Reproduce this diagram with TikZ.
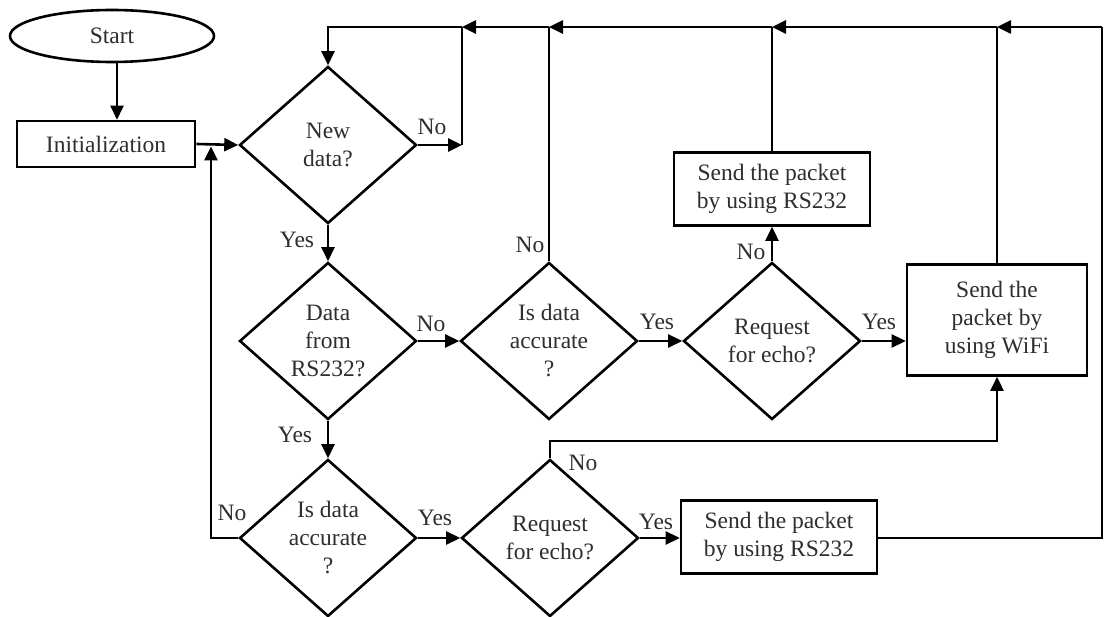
\documentclass[tikz,border=0pt]{standalone}
\usepackage{fontspec}
\setmainfont{Liberation Serif}
\usetikzlibrary{shapes.geometric,arrows.meta}
\definecolor{txt}{HTML}{2E2E2E}
\begin{document}
\begin{tikzpicture}[x=1pt,y=-1pt,
  every node/.style={font=\fontsize{23.5}{28}\selectfont, text=txt},
  line/.style={line width=2.6pt, draw=black},
  arr/.style={line, -{Triangle[length=14pt,width=13pt]}},
  dec/.style={shape=diamond, draw=black, line width=2.6pt, minimum width=177pt, minimum height=157pt, inner sep=0pt, aspect=1.13, align=center},
  proc/.style={rectangle, draw=black, line width=2.6pt, inner sep=0pt, align=center},
  lbl/.style={inner sep=0pt}
]
\useasboundingbox (0,0) rectangle (1104,617);
\fill[white] (0,0) rectangle (1104,617);

% nodes
\node[ellipse, draw=black, line width=2.6pt, minimum width=204pt, minimum height=52pt, inner sep=0pt] (start) at (112,36) {Start};
\node[proc, minimum width=178pt, minimum height=46pt] (init) at (106,144) {Initialization};
\node[dec] (d1) at (328,145) {New\\data?};
\node[dec] (d2) at (328,341) {Data\\from\\RS232?};
\node[dec] (d3) at (549,341) {Is data\\accurate\\?};
\node[dec] (d4) at (772,341) {Request\\for echo?};
\node[dec] (d5) at (328,538) {Is data\\accurate\\?};
\node[dec] (d6) at (550,538) {Request\\for echo?};
\node[proc, minimum width=196pt, minimum height=73pt] (rs1) at (772,189) {Send the packet\\by using RS232};
\node[proc, minimum width=180pt, minimum height=111pt] (wifi) at (997,320) {Send the\\packet by\\using WiFi};
\node[proc, minimum width=196pt, minimum height=73pt] (rs2) at (779,537) {Send the packet\\by using RS232};

% helper coordinates
\coordinate (sx) at (117,0);
\coordinate (jl) at (211,145);
\coordinate (jle) at (211,146.5);
\coordinate (jn) at (462,145);
\coordinate (re) at (1102,538);
\coordinate (t5) at (1102,27);
\coordinate (t4) at (997,27);
\coordinate (t3) at (772,27);
\coordinate (t2) at (549,27);
\coordinate (t1) at (462,27);
\coordinate (t0) at (328,27);
\coordinate (bl) at (997,441);

% connectors
\draw[arr] (start.south -| sx) -- (init.north -| sx);
\draw[arr] (init.east) -- (d1.west);
\draw[arr] (d5.west) -- (d5.west -| jl) -- (jle);
\draw[arr] (d1.east) -- (jn);
\draw[line] (jn) -- (t1);
\draw[arr] (d1.south) -- (d2.north);
\draw[arr] (d2.south) -- (d5.north);
\draw[arr] (d2.east) -- (d3.west);
\draw[arr] (d3.east) -- (d4.west);
\draw[arr] (d4.east) -- (d4.east -| wifi.west);
\draw[arr] (d4.north) -- (rs1.south);
\draw[arr] (d5.east) -- (d6.west);
\draw[arr] (d6.east) -- (d6.east -| rs2.west);
\draw[arr] (d6.north) -- (d6.north |- bl) -- (bl) -- (wifi.south);
\draw[line] (d3.north) -- (t2);
\draw[line] (rs1.north) -- (t3);
\draw[line] (wifi.north) -- (t4);
\draw[line] (rs2.east |- re) -- (re) -- (t5);
\draw[arr] (t5) -- (t4);
\draw[arr] (t4) -- (t3);
\draw[arr] (t3) -- (t2);
\draw[arr] (t2) -- (t1);
\draw[arr] (t1) -- (t0) -- (d1.north);

% labels
\node[lbl] (l1) at (432,127) {No};
\node[lbl] (l2) at (297,240) {Yes};
\node[lbl] (l3) at (431,324) {No};
\node[lbl] (l4) at (530,245) {No};
\node[lbl] (l5) at (657,322) {Yes};
\node[lbl] (l6) at (751,252) {No};
\node[lbl] (l7) at (879,322) {Yes};
\node[lbl] (l8) at (295,435) {Yes};
\node[lbl] (l9) at (232,513) {No};
\node[lbl] (l10) at (435,518) {Yes};
\node[lbl] (l11) at (583,463) {No};
\node[lbl] (l12) at (656,522) {Yes};
\end{tikzpicture}
\end{document}
